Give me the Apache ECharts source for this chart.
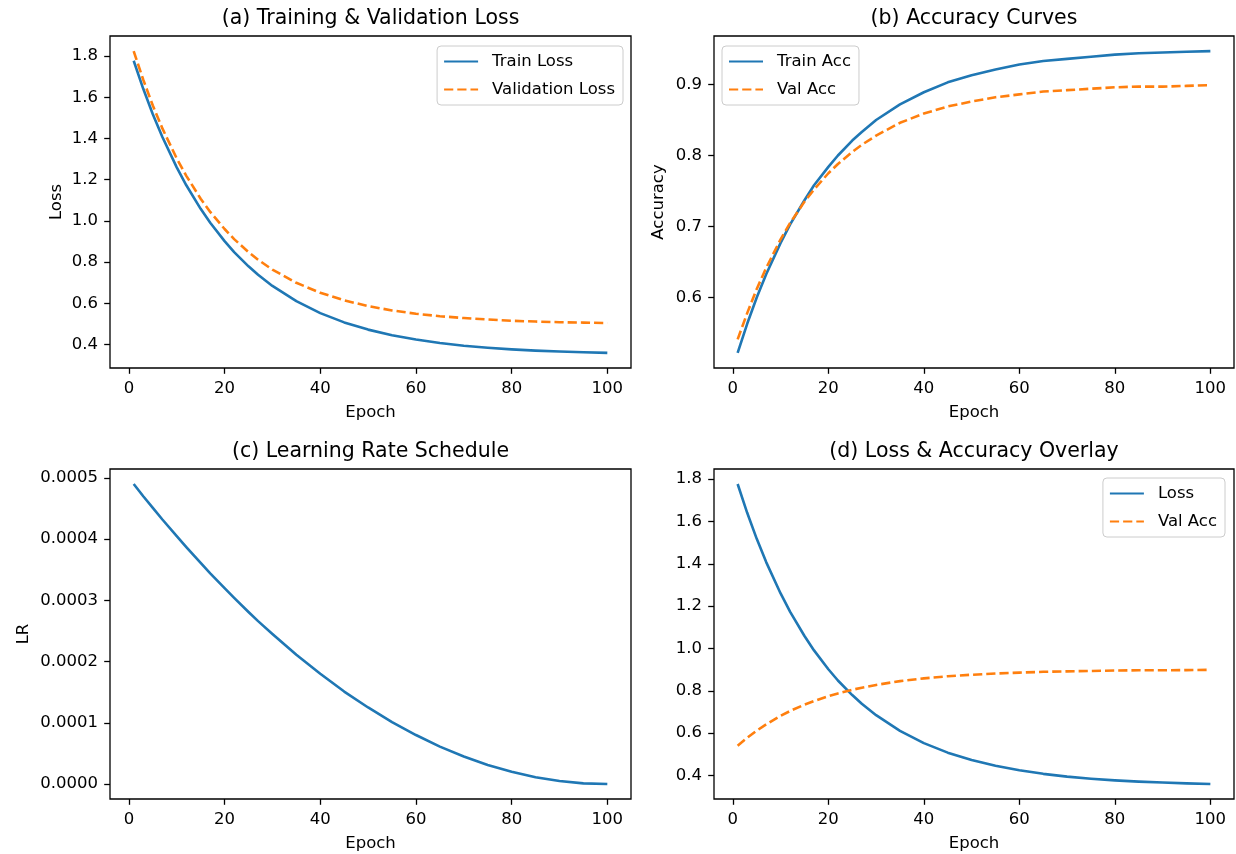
<!DOCTYPE html>
<html>
<head>
<meta charset="utf-8">
<script src="https://cdn.jsdelivr.net/npm/echarts@6/dist/echarts.min.js"></script>
<style>
html,body{margin:0;padding:0;background:#fff;}
#chart{width:1236px;height:854px;}
</style>
</head>
<body>
<div id="chart"></div>
<script>
// ---- data ----
const epochs    = [1, 3, 5, 7, 10, 12, 15, 17, 20, 22, 25, 27, 30, 35, 40, 45, 50, 55, 60, 65, 70, 75, 80, 85, 90, 95, 100];
const trainLoss = [1.777, 1.641, 1.518, 1.407, 1.260, 1.173, 1.059, 0.991, 0.902, 0.849, 0.780, 0.739, 0.685, 0.611, 0.553, 0.508, 0.473, 0.446, 0.425, 0.408, 0.395, 0.385, 0.377, 0.371, 0.367, 0.363, 0.360];
const valLoss   = [1.824, 1.685, 1.560, 1.449, 1.303, 1.219, 1.108, 1.044, 0.961, 0.912, 0.849, 0.812, 0.764, 0.700, 0.652, 0.615, 0.587, 0.566, 0.550, 0.538, 0.529, 0.522, 0.516, 0.512, 0.509, 0.507, 0.505];
const trainAcc  = [0.522, 0.563, 0.600, 0.633, 0.677, 0.703, 0.737, 0.758, 0.784, 0.800, 0.821, 0.833, 0.850, 0.872, 0.889, 0.903, 0.913, 0.921, 0.928, 0.933, 0.936, 0.939, 0.942, 0.944, 0.945, 0.946, 0.947];
const valAcc    = [0.541, 0.578, 0.612, 0.642, 0.682, 0.705, 0.735, 0.752, 0.775, 0.788, 0.805, 0.815, 0.828, 0.846, 0.859, 0.869, 0.876, 0.882, 0.886, 0.890, 0.892, 0.894, 0.896, 0.897, 0.897, 0.898, 0.899];
const lrValues  = [0.000490, 0.000470, 0.000451, 0.000432, 0.000405, 0.000387, 0.000361, 0.000344, 0.000320, 0.000304, 0.000281, 0.000266, 0.000245, 0.000211, 0.000180, 0.000151, 0.000125, 0.000101, 0.000080, 0.000061, 0.000045, 0.000031, 0.000020, 0.000011, 0.000005, 0.000001, 0.000000];

const xTicks    = [0, 20, 40, 60, 80, 100];
const lossTicks = [0.4, 0.6, 0.8, 1.0, 1.2, 1.4, 1.6, 1.8];
const accTicks  = [0.6, 0.7, 0.8, 0.9];
const lrTicks   = [0, 0.0001, 0.0002, 0.0003, 0.0004, 0.0005];

const titles = ['(a) Training & Validation Loss', '(b) Accuracy Curves', '(c) Learning Rate Schedule', '(d) Loss & Accuracy Overlay'];

// ---- styling ----
const FONT = 'DejaVu Sans';
const BLUE = '#1f77b4', ORANGE = '#ff7f0e';
const TICK_FS = 16.5, LABEL_FS = 16.5, TITLE_FS = 20.5;
const DASH = [9.2, 4];

const grids = [
  {left: 110, top: 36,  width: 521, height: 332},
  {left: 714, top: 36,  width: 520, height: 332},
  {left: 110, top: 469, width: 521, height: 330},
  {left: 714, top: 469, width: 520, height: 330}
];

function range(arrs) {
  let mn = Infinity, mx = -Infinity;
  arrs.forEach(a => a.forEach(v => { if (v < mn) mn = v; if (v > mx) mx = v; }));
  const m = (mx - mn) * 0.05;
  return [mn - m, mx + m];
}

const xr = range([epochs]);

function xAxis(i) {
  return {
    type: 'value', gridIndex: i, min: xr[0], max: xr[1],
    axisLine: {show: false, onZero: false},
    axisTick: {show: true, length: 5.8, customValues: xTicks, lineStyle: {color: '#000', width: 1.3}},
    axisLabel: {customValues: xTicks, margin: 12, fontSize: TICK_FS, color: '#000', fontFamily: FONT},
    splitLine: {show: false},
    name: 'Epoch', nameLocation: 'middle', nameGap: 36,
    nameTextStyle: {fontSize: LABEL_FS, color: '#000', fontFamily: FONT}
  };
}

function yAxis(i, r, ticks, digits, name, gap) {
  return {
    type: 'value', gridIndex: i, min: r[0], max: r[1],
    axisLine: {show: false, onZero: false},
    axisTick: {show: true, length: 5.8, customValues: ticks, lineStyle: {color: '#000', width: 1.3}},
    axisLabel: {customValues: ticks, margin: 12, fontSize: TICK_FS, color: '#000', fontFamily: FONT,
                formatter: v => Number(v).toFixed(digits)},
    splitLine: {show: false},
    name: name, nameLocation: 'middle', nameGap: gap,
    nameTextStyle: {fontSize: LABEL_FS, color: '#000', fontFamily: FONT}
  };
}

function pairs(arr) { return epochs.map((e, k) => [e, arr[k]]); }

function line(name, arr, i, color, dashed) {
  return {
    type: 'line', name: name, xAxisIndex: i, yAxisIndex: i,
    data: pairs(arr), symbol: 'none', showSymbol: false,
    color: color,
    lineStyle: {color: color, width: 2.6, type: dashed ? DASH : 'solid', cap: 'butt', join: 'round'},
    animation: false, z: 3
  };
}

function legend(names, pos) {
  return Object.assign({
    orient: 'vertical', data: names,
    itemWidth: 34, itemHeight: 14, itemGap: 11,
    padding: [7, 8, 7, 6],
    backgroundColor: 'rgba(255,255,255,0.8)', borderColor: '#cccccc', borderWidth: 1, borderRadius: 4,
    itemStyle: {opacity: 0},
    textStyle: {fontSize: LABEL_FS, color: '#000', fontFamily: FONT, padding: [0, 0, 0, 9]},
    selectedMode: false
  }, pos);
}

const option = {
  backgroundColor: '#fff',
  animation: false,
  title: titles.map((t, i) => ({
    text: t,
    left: grids[i].left + grids[i].width / 2,
    top: i < 2 ? 8 : 441,
    textAlign: 'center',
    padding: 0,
    textStyle: {fontSize: TITLE_FS, fontWeight: 'normal', color: '#000', fontFamily: FONT}
  })),
  grid: grids.map(g => Object.assign({show: true, borderColor: '#000', borderWidth: 1.3, backgroundColor: 'transparent'}, g)),
  xAxis: [0, 1, 2, 3].map(xAxis),
  yAxis: [
    yAxis(0, range([trainLoss, valLoss]), lossTicks, 1, 'Loss', 45),
    yAxis(1, range([trainAcc, valAcc]), accTicks, 1, 'Accuracy', 47),
    yAxis(2, range([lrValues]), lrTicks, 4, 'LR', 78),
    yAxis(3, range([trainLoss, valAcc]), lossTicks, 1, '', 44)
  ],
  legend: [
    legend(['Train Loss', 'Validation Loss'], {right: 1236 - 623, top: 46}),
    legend(['Train Acc', 'Val Acc'], {left: 722, top: 46}),
    legend(['Loss', 'Val Acc'], {right: 1236 - 1225, top: 478})
  ],
  series: [
    line('Train Loss', trainLoss, 0, BLUE, false),
    line('Validation Loss', valLoss, 0, ORANGE, true),
    line('Train Acc', trainAcc, 1, BLUE, false),
    line('Val Acc', valAcc, 1, ORANGE, true),
    line('LR', lrValues, 2, BLUE, false),
    line('Loss', trainLoss, 3, BLUE, false),
    line('Val Acc', valAcc, 3, ORANGE, true)
  ]
};

const chart = echarts.init(document.getElementById('chart'), null, {renderer: 'canvas'});
chart.setOption(option);
</script>
</body>
</html>
